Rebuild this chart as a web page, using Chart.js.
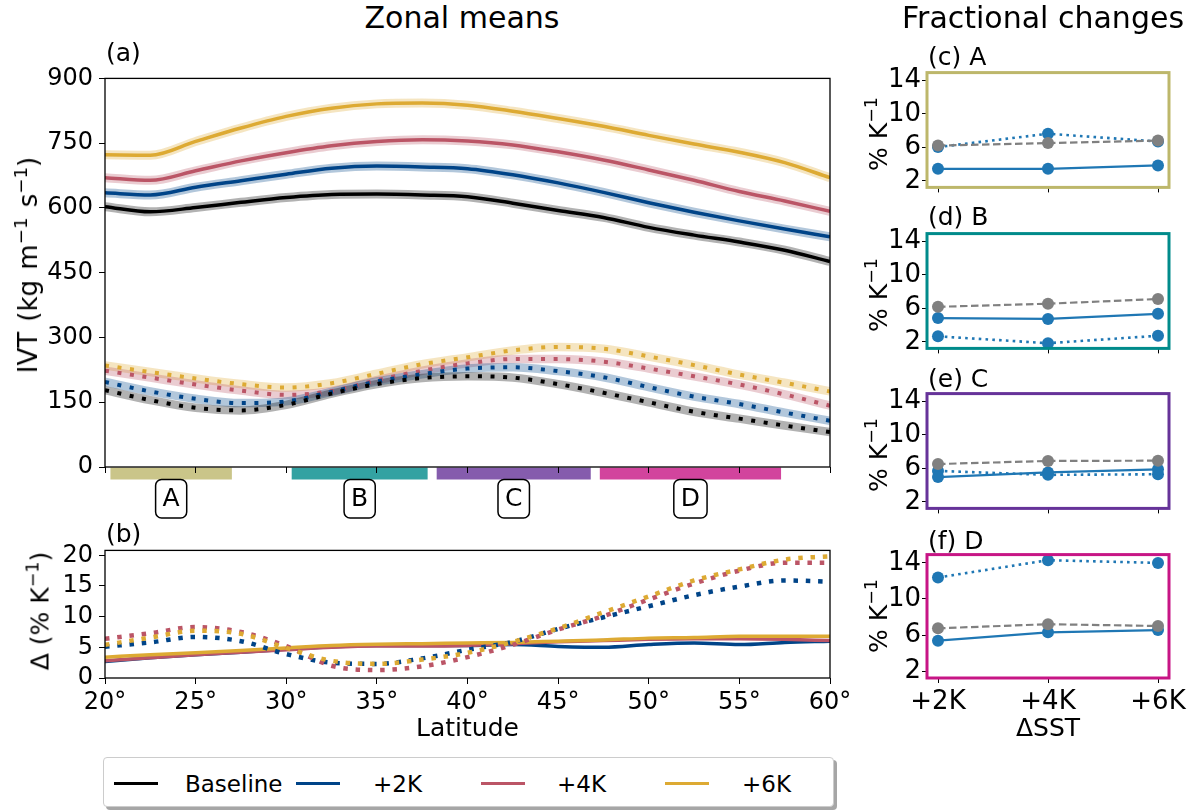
<!DOCTYPE html>
<html>
<head>
<meta charset="utf-8">
<title>IVT zonal means and fractional changes</title>
<script src="https://cdn.jsdelivr.net/npm/chart.js@4/dist/chart.umd.min.js"></script>
<style>
    html, body { margin: 0; padding: 0; background: #fff; }
    #page { position: relative; width: 1193px; height: 811px; overflow: hidden;
            font-family: 'DejaVu Sans', sans-serif; color: #000; }
    #page canvas { position: absolute; }
    .lbl { position: absolute; line-height: 1; white-space: nowrap; z-index: 2; }
    .title { font-size: 30px; text-align: center; }
    .panel { font-size: 25px; }
    .ylab { position: absolute; font-size: 25px; line-height: 1; white-space: nowrap; z-index: 2;
            transform: translate(-50%, -50%) rotate(-90deg); }
    .ylab sup { font-size: 70%; position: relative; top: -0.55em; vertical-align: baseline; line-height: 0; }
    .ylab.big { font-size: 26px; word-spacing: 2px; }
    #legend { position: absolute; left: 103px; top: 757px; width: 729px; height: 48px;
              border: 1px solid #cccccc; border-radius: 4px; background: #fff;
              box-shadow: 3px 3px 0 rgba(0, 0, 0, 0.35); z-index: 2; }
    #legend .sw { position: absolute; top: 24px; height: 3px; width: 44px; }
    #legend .tx { position: absolute; top: 15px; font-size: 23px; line-height: 1; }
</style>
</head>
<body>
<div id="page">
    <div class="lbl title" style="left:262px; top:3px; width:400px;">Zonal means</div>
    <div class="lbl title" style="left:893px; top:3px; width:300px;">Fractional changes</div>
    <div class="lbl panel" style="left:106px; top:40px;">(a)</div>
    <div class="lbl panel" style="left:106px; top:521px;">(b)</div>
    <div class="lbl panel" style="left:928px; top:44px;">(c) A</div>
    <div class="lbl panel" style="left:928px; top:204px;">(d) B</div>
    <div class="lbl panel" style="left:928px; top:366px;">(e) C</div>
    <div class="lbl panel" style="left:928px; top:528px;">(f) D</div>
    <div class="ylab big" style="left:28px; top:265px;">IVT (kg m<sup>−1</sup> s<sup>−1</sup>)</div>
    <div class="ylab" style="left:40px; top:611px;">Δ (% K<sup>−1</sup>)</div>
    <div class="ylab" style="left:878px; top:134px;">% K<sup>−1</sup></div>
    <div class="ylab" style="left:878px; top:295px;">% K<sup>−1</sup></div>
    <div class="ylab" style="left:878px; top:455px;">% K<sup>−1</sup></div>
    <div class="ylab" style="left:878px; top:616px;">% K<sup>−1</sup></div>
    <div id="legend"></div>
</div>

<script>
// Latitudes where the zonal means are sampled
const lat = [20, 22.5, 25, 27.5, 30, 32.5, 35, 37.5, 40, 42.5, 45, 47.5, 50, 52.5, 55, 57.5, 60];
const latTicks = [20, 25, 30, 35, 40, 45, 50, 55, 60];
const ivtTicks = [0, 150, 300, 450, 600, 750, 900];
const deltaTicks = [0, 5, 10, 15, 20];
const pctTicks = [2, 6, 10, 14];
const sstLabels = ['+2K', '+4K', '+6K'];

const scenarios = ['Baseline', '+2K', '+4K', '+6K'];
const scenarioColors = ['#000000', '#004488', '#BB5566', '#DDAA33'];

// (a) IVT, solid lines
const solidBase = [603, 591, 601, 613, 624, 631, 632, 630, 626, 611, 594, 578, 555, 537, 521, 502, 476];
const solid2K = [635, 630, 648, 663, 678, 692, 697, 695, 691, 677, 658, 636, 612, 590, 570, 551, 533];
const solid4K = [670, 664, 686, 709, 728, 744, 754, 758, 755, 746, 730, 711, 688, 664, 638, 616, 592];
const solid6K = [723, 722, 754, 785, 812, 831, 841, 843, 838, 824, 807, 789, 768, 748, 729, 705, 670];

// (a) IVT, dotted lines
const dotBase = [178, 155, 137, 131, 144, 170, 192, 206, 210, 207, 192, 172, 150, 128, 112, 96, 81];
const dot2K = [197, 175, 158, 148, 152, 174, 198, 215, 228, 231, 222, 208, 185, 163, 146, 126, 107];
const dot4K = [223, 207, 191, 177, 167, 176, 201, 223, 240, 250, 250, 244, 228, 210, 191, 168, 142];
const dot6K = [235, 220, 205, 192, 184, 194, 216, 238, 254, 270, 278, 274, 256, 236, 214, 195, 175];

// (b) change per degree of warming
const dSolid2K = [2.7, 3.3, 3.8, 4.2, 4.7, 5.1, 5.3, 5.3, 5.3, 5.45, 5.15, 5.0, 5.45, 5.7, 5.45, 5.8, 6.0];
const dSolid4K = [2.8, 3.3, 3.8, 4.2, 4.6, 5.0, 5.2, 5.2, 5.3, 5.6, 5.9, 6.1, 6.3, 6.4, 6.4, 6.3, 6.1];
const dSolid6K = [3.4, 3.8, 4.1, 4.5, 4.9, 5.3, 5.5, 5.6, 5.7, 5.8, 6.0, 6.2, 6.5, 6.6, 6.8, 6.8, 6.8];
const dDot2K = [5.1, 5.8, 6.7, 6.0, 3.9, 2.5, 2.3, 3.2, 4.6, 5.9, 8.0, 9.9, 11.7, 13.5, 14.9, 15.9, 15.7];
const dDot4K = [6.4, 7.3, 8.3, 7.5, 5.2, 2.0, 1.3, 1.9, 3.4, 5.4, 7.9, 10.1, 12.8, 15.4, 17.5, 18.8, 18.8];
const dDot6K = [5.4, 6.6, 7.7, 7.2, 4.9, 2.8, 2.3, 3.0, 4.1, 5.9, 8.1, 10.7, 13.3, 15.9, 17.7, 19.3, 19.85];

// Regions (latitude bands) A-D
const regionNames = ['A', 'B', 'C', 'D'];
const regionStart = [20.3, 30.3, 38.3, 47.3];
const regionEnd = [27.0, 37.8, 46.8, 57.3];
const regionColors = ['#BDB76B', '#008B8B', '#663399', '#C71585'];

// (c)-(f) fractional changes per region
const solidA = [3.44, 3.44, 3.85];
const dotA = [6.04, 7.63, 6.7];
const dashA = [6.22, 6.52, 6.81];
const solidB = [4.85, 4.75, 5.35];
const dotB = [2.67, 1.85, 2.74];
const dashB = [6.19, 6.56, 7.12];
const solidC = [4.97, 5.52, 5.89];
const dotC = [5.7, 5.23, 5.3];
const dashC = [6.52, 6.89, 6.92];
const solidD = [5.37, 6.3, 6.55];
const dotD = [12.38, 14.3, 14.0];
const dashD = [6.74, 7.2, 7.0];

const blueCol = '#1f77b4';
const greyCol = '#808080';

Chart.defaults.font.family = "'DejaVu Sans', sans-serif";
Chart.defaults.font.size = 24;
Chart.defaults.color = '#000';

function rgba(hex, a) {
    const n = parseInt(hex.slice(1), 16);
    return `rgba(${(n >> 16) & 255}, ${(n >> 8) & 255}, ${n & 255}, ${a})`;
}

function latPts(arr) {
    return arr.map((v, i) => ({ x: lat[i], y: v }));
}

function sstPts(arr) {
    return arr.map((v, i) => ({ x: i, y: v }));
}

function fixedTicks(values) {
    return function(scale) {
        scale.ticks = values.map(v => ({ value: v }));
    };
}

function makeCanvas(id, left, top, w, h) {
    const c = document.createElement('canvas');
    c.id = id;
    c.width = w;
    c.height = h;
    c.style.left = left + 'px';
    c.style.top = top + 'px';
    c.style.width = w + 'px';
    c.style.height = h + 'px';
    document.getElementById('page').appendChild(c);
    return c;
}

// Box round the plot area
const framePlugin = {
    id: 'frame',
    afterDatasetsDraw(chart, args, opts) {
        const { ctx, chartArea: a } = chart;
        ctx.save();
        ctx.strokeStyle = opts.color || '#000';
        ctx.lineWidth = opts.width || 1.3;
        ctx.strokeRect(a.left, a.top, a.right - a.left, a.bottom - a.top);
        ctx.restore();
    }
};

// Region bars and labels below panel (a)
const regionPlugin = {
    id: 'regions',
    beforeDraw(chart) {
        const { ctx, chartArea: a, scales: { x } } = chart;
        ctx.save();
        regionNames.forEach((name, i) => {
            const x0 = x.getPixelForValue(regionStart[i]);
            const x1 = x.getPixelForValue(regionEnd[i]);
            ctx.fillStyle = rgba(regionColors[i], 0.8);
            ctx.fillRect(x0, a.bottom + 0.5, x1 - x0, 12);
        });
        ctx.restore();
    },
    afterDraw(chart) {
        const { ctx, chartArea: a, scales: { x } } = chart;
        ctx.save();
        ctx.font = "25px 'DejaVu Sans', sans-serif";
        ctx.textAlign = 'center';
        ctx.textBaseline = 'middle';
        regionNames.forEach((name, i) => {
            const cx = (x.getPixelForValue(regionStart[i]) + x.getPixelForValue(regionEnd[i])) / 2;
            const w = ctx.measureText(name).width + 14;
            const top = a.bottom + 12.5, h = 38.5;
            ctx.beginPath();
            ctx.roundRect(cx - w / 2, top, w, h, 6);
            ctx.fillStyle = '#fff';
            ctx.fill();
            ctx.lineWidth = 1.5;
            ctx.strokeStyle = '#000';
            ctx.stroke();
            ctx.fillStyle = '#000';
            ctx.fillText(name, cx, top + h / 2 + 1);
        });
        ctx.restore();
    }
};

const tickGrid = { drawOnChartArea: false, drawTicks: true, tickLength: 6, color: '#000', lineWidth: 1 };

// ---------- panel (a) ----------
const solidSeries = [solidBase, solid2K, solid4K, solid6K];
const dotSeries = [dotBase, dot2K, dot4K, dot6K];
const datasetsA = [];
scenarios.forEach((name, i) => {
    const col = scenarioColors[i];
    datasetsA.push({ label: name + ' band', data: latPts(solidSeries[i]), borderColor: rgba(col, 0.3), borderWidth: 9, order: 20 + i });
    datasetsA.push({ label: name + ' band dotted', data: latPts(dotSeries[i]), borderColor: rgba(col, 0.3), borderWidth: 8.5, order: 20 + i });
    datasetsA.push({ label: name, data: latPts(solidSeries[i]), borderColor: col, borderWidth: 3.5, order: 1 + i });
    datasetsA.push({ label: name + ' dotted', data: latPts(dotSeries[i]), borderColor: col, borderWidth: 4, borderDash: [4, 8.6], order: 1 + i });
});

new Chart(makeCanvas('chartA', 0, 58, 850, 472), {
    type: 'line',
    data: { datasets: datasetsA },
    options: {
        responsive: false,
        animation: false,
        devicePixelRatio: 1,
        events: [],
        layout: { padding: { top: 15, right: 20, left: 0, bottom: 0 } },
        elements: {
            line: { cubicInterpolationMode: 'monotone', borderCapStyle: 'butt', fill: false },
            point: { radius: 0 }
        },
        plugins: { legend: { display: false }, tooltip: { enabled: false }, frame: { color: '#000', width: 1.3 } },
        scales: {
            x: {
                type: 'linear', min: 20, max: 60,
                afterBuildTicks: fixedTicks(latTicks),
                afterFit: s => { s.height = 63; },
                ticks: { display: false },
                grid: tickGrid,
                border: { display: false }
            },
            y: {
                type: 'linear', min: 0, max: 900,
                afterBuildTicks: fixedTicks(ivtTicks),
                afterFit: s => { s.width = 105; },
                ticks: { padding: 6 },
                grid: tickGrid,
                border: { display: false }
            }
        }
    },
    plugins: [regionPlugin, framePlugin]
});

// ---------- panel (b) ----------
const deltaSolid = [dSolid2K, dSolid4K, dSolid6K];
const deltaDot = [dDot2K, dDot4K, dDot6K];
const datasetsB = [];
[1, 2, 3].forEach((s, k) => {
    const col = scenarioColors[s];
    datasetsB.push({ label: scenarios[s], data: latPts(deltaSolid[k]), borderColor: col, borderWidth: 3.5, order: 10 - k });
    datasetsB.push({ label: scenarios[s] + ' dotted', data: latPts(deltaDot[k]), borderColor: col, borderWidth: 4.5, borderDash: [4.5, 7.8], order: 5 - k });
});

new Chart(makeCanvas('chartB', 0, 530, 880, 215), {
    type: 'line',
    data: { datasets: datasetsB },
    options: {
        responsive: false,
        animation: false,
        devicePixelRatio: 1,
        events: [],
        layout: { padding: { top: 16, right: 50, left: 0, bottom: 0 } },
        elements: {
            line: { cubicInterpolationMode: 'monotone', borderCapStyle: 'butt', fill: false },
            point: { radius: 0 }
        },
        plugins: { legend: { display: false }, tooltip: { enabled: false }, frame: { color: '#000', width: 1.3 } },
        scales: {
            x: {
                type: 'linear', min: 20, max: 60,
                afterBuildTicks: fixedTicks(latTicks),
                afterFit: s => { s.height = 67; },
                ticks: { padding: 4, maxRotation: 0, callback: v => v + '°' },
                grid: tickGrid,
                border: { display: false },
                title: { display: true, text: 'Latitude', font: { size: 25 }, padding: { top: 0, bottom: 1 } }
            },
            y: {
                type: 'linear', min: 0, max: 20.8,
                afterBuildTicks: fixedTicks(deltaTicks),
                afterFit: s => { s.width = 105; },
                ticks: { padding: 6 },
                grid: tickGrid,
                border: { display: false }
            }
        }
    },
    plugins: [framePlugin]
});

// ---------- panels (c)-(f) ----------
function smallPanel(id, boxTop, solid, dot, dash, color, showX) {
    const h = showX ? 207 : 148;
    const cv = makeCanvas(id, 840, boxTop - 16, 353, h);
    new Chart(cv, {
        type: 'line',
        data: {
            datasets: [
                { label: 'dashed', data: sstPts(dash), borderColor: greyCol, backgroundColor: greyCol, borderDash: [7.5, 3.5], order: 1 },
                { label: 'solid', data: sstPts(solid), borderColor: blueCol, backgroundColor: blueCol, order: 2 },
                { label: 'dotted', data: sstPts(dot), borderColor: blueCol, backgroundColor: blueCol, borderWidth: 2.6, borderDash: [2.6, 4.2], order: 3 }
            ]
        },
        options: {
            responsive: false,
            animation: false,
            devicePixelRatio: 1,
            events: [],
            layout: { padding: { top: 16, right: 24, left: 0, bottom: 0 } },
            elements: {
                line: { borderWidth: 2.2, tension: 0, borderCapStyle: 'butt', fill: false },
                point: { radius: 6, borderWidth: 0 }
            },
            datasets: { line: { pointBorderWidth: 0, pointRadius: 6 } },
            plugins: { legend: { display: false }, tooltip: { enabled: false }, frame: { color: color, width: 3 } },
            scales: {
                x: {
                    type: 'linear', min: -0.1, max: 2.1,
                    afterBuildTicks: fixedTicks([0, 1, 2]),
                    afterFit: s => { s.height = h - 16 - 124; },
                    ticks: { display: showX, padding: 4, maxRotation: 0, font: { size: 26 }, callback: v => sstLabels[v] },
                    grid: Object.assign({}, tickGrid, { tickLength: 5 }),
                    border: { display: false },
                    title: { display: showX, text: 'ΔSST', font: { size: 25 }, padding: { top: 0, bottom: 1 } }
                },
                y: {
                    type: 'linear', min: 1.23, max: 14.92,
                    afterBuildTicks: fixedTicks(pctTicks),
                    afterFit: s => { s.width = 87; },
                    ticks: { padding: 1, font: { size: 26 } },
                    grid: Object.assign({}, tickGrid, { tickLength: 5 }),
                    border: { display: false }
                }
            }
        },
        plugins: [framePlugin]
    });
}

smallPanel('chartC', 72, solidA, dotA, dashA, regionColors[0], false);
smallPanel('chartD', 233, solidB, dotB, dashB, regionColors[1], false);
smallPanel('chartE', 393, solidC, dotC, dashC, regionColors[2], false);
smallPanel('chartF', 554, solidD, dotD, dashD, regionColors[3], true);

// ---------- legend ----------
const legendSwatchX = [10, 192, 377, 561];
const legendTextX = [81, 269, 453, 638];
const legend = document.getElementById('legend');
scenarios.forEach((name, i) => {
    const sw = document.createElement('div');
    sw.className = 'sw';
    sw.style.left = legendSwatchX[i] + 'px';
    sw.style.background = scenarioColors[i];
    legend.appendChild(sw);
    const tx = document.createElement('div');
    tx.className = 'tx';
    tx.style.left = legendTextX[i] + 'px';
    tx.textContent = name;
    legend.appendChild(tx);
});
</script>
</body>
</html>
